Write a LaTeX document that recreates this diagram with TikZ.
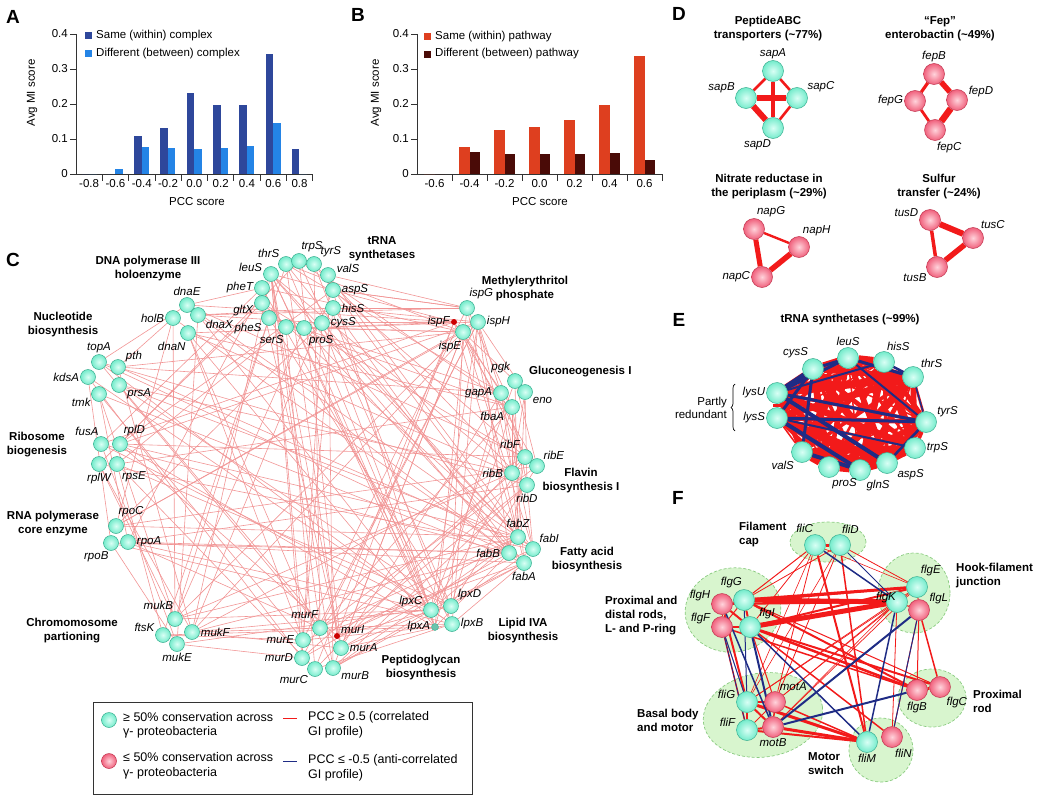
\documentclass[tikz,border=0pt]{standalone}
\usepackage{fontspec}
\setmainfont{Liberation Sans}
\usetikzlibrary{arrows.meta,positioning,decorations.pathreplacing,calc,shapes.geometric}
\definecolor{samecx}{HTML}{2E479B}
\definecolor{diffcx}{HTML}{2484E6}
\definecolor{samepw}{HTML}{DE3F1F}
\definecolor{diffpw}{HTML}{4A0B07}
\definecolor{axisgray}{HTML}{333333}
\definecolor{consv}{HTML}{74EBCB}
\definecolor{consvhi}{HTML}{D9FFF5}
\definecolor{consvrim}{HTML}{3AAE90}
\definecolor{lowcv}{HTML}{F0607C}
\definecolor{lowcvhi}{HTML}{FFD3DB}
\definecolor{lowcvrim}{HTML}{C0354E}
\definecolor{corr}{HTML}{F21A1A}
\definecolor{anticorr}{HTML}{1F2C85}
\definecolor{netedge}{HTML}{F19595}
\definecolor{grpfill}{HTML}{D8F5CE}
\definecolor{grpline}{HTML}{8ACB80}
\pgfdeclarelayer{blobs}
\pgfdeclarelayer{links}
\pgfsetlayers{blobs,links,main}
\tikzset{
  hiball/.style={circle, draw=consvrim, line width=0.5pt, inner sep=0pt, minimum size=21pt,
    inner color=consvhi, outer color=consv},
  loball/.style={hiball, draw=lowcvrim, inner color=lowcvhi, outer color=lowcv},
  smallhi/.style={hiball, minimum size=15pt},
  smalllo/.style={loball, minimum size=15pt},
  tinyhi/.style={circle, fill=consv!80!black!90, draw=consvrim, inner sep=0pt, minimum size=7pt},
  tinylo/.style={circle, fill=red!80!black, inner sep=0pt, minimum size=6pt},
  gene/.style={font=\fontsize{11.5}{13}\selectfont\itshape, inner sep=1pt},
  grp/.style={font=\fontsize{11.5}{14}\selectfont\bfseries, align=center, inner sep=0pt},
  panel/.style={font=\fontsize{19}{20}\selectfont\bfseries, inner sep=0pt},
  axlab/.style={font=\fontsize{11.5}{13}\selectfont, inner sep=1pt},
  legtext/.style={font=\fontsize{12.5}{14.5}\selectfont, align=left, inner sep=0pt, anchor=west},
  axisln/.style={draw=axisgray, line width=0.8pt},
  corrline/.style={draw=corr},
  antiline/.style={draw=anticorr},
  cline/.style={draw=netedge, line width=0.6pt},
  grpblob/.style={ellipse, fill=grpfill, draw=grpline, densely dashed, line width=0.7pt, inner sep=0pt}
}
\begin{document}
\begin{tikzpicture}[x=1pt,y=-1pt]
\useasboundingbox (0,0) rectangle (1039,800);

% ---------- A: complexes ----------
\node[panel] (lblA) at (13,17) {A};
\draw[axisln] (76,34) -- (76,174) -- (313,174);
\foreach \v/\yy [count=\k] in {0/174,0.1/139,0.2/104,0.3/69,0.4/34} {
  \draw[axisln] (70,\yy) -- (76,\yy);
  \node[axlab, anchor=east] (ytA\k) at (69,\yy) {\v};
}
\foreach \k in {1,...,9} \draw[axisln] ({76+26.3*\k},174) -- ++(0,7);
\foreach \t [count=\k from 0] in {-0.8,-0.6,-0.4,-0.2,0.0,0.2,0.4,0.6,0.8}
  \node[axlab] (xtA\k) at ({76+26.3*(\k+0.5)},184) {\t};
\foreach \hs/\hd [count=\k from 0] in {0/0,0/0.015,0.11/0.077,0.13/0.074,0.232/0.07,0.196/0.074,0.196/0.08,0.342/0.146,0.07/0} {
  \pgfmathsetmacro\bx{76+26.3*\k+5.5}
  \fill[samecx] (\bx,174) rectangle ++(7.5,-350*\hs);
  \fill[diffcx] (\bx+7.5,174) rectangle ++(7.5,-350*\hd);
}
\fill[samecx] (85,32) rectangle (92,39);
\node[axlab, anchor=west] (legA1) at (95,36) {Same (within) complex};
\fill[diffcx] (85,50) rectangle (92,57);
\node[axlab, anchor=west] (legA2) at (95,54) {Different (between) complex};
\node[axlab, rotate=90] (yA) at (32,93) {Avg MI score};
\node[axlab] (xA) at (197,202) {PCC score};

% ---------- B: pathways ----------
\node[panel] (lblB) at (358,15) {B};
\draw[axisln] (417,34) -- (417,174) -- (662,174);
\foreach \v/\yy [count=\k] in {0/174,0.1/139,0.2/104,0.3/69,0.4/34} {
  \draw[axisln] (411,\yy) -- (417,\yy);
  \node[axlab, anchor=east] (ytB\k) at (410,\yy) {\v};
}
\foreach \k in {1,...,7} \draw[axisln] ({417+35*\k},174) -- ++(0,7);
\foreach \t [count=\k from 0] in {-0.6,-0.4,-0.2,0.0,0.2,0.4,0.6}
  \node[axlab] (xtB\k) at ({417+35*(\k+0.5)},184) {\t};
\foreach \hs/\hd [count=\k from 0] in {0/0,0.078/0.062,0.127/0.056,0.133/0.056,0.153/0.056,0.197/0.06,0.336/0.04} {
  \pgfmathsetmacro\bx{417+35*\k+7}
  \fill[samepw] (\bx,174) rectangle ++(10.5,-350*\hs);
  \fill[diffpw] (\bx+10.5,174) rectangle ++(10.5,-350*\hd);
}
\fill[samepw] (424,33) rectangle (431,40);
\node[axlab, anchor=west] (legB1) at (434,37) {Same (within) pathway};
\fill[diffpw] (424,51) rectangle (431,58);
\node[axlab, anchor=west] (legB2) at (434,54) {Different (between) pathway};
\node[axlab, rotate=90] (yB) at (376,93) {Avg MI score};
\node[axlab] (xB) at (540,202) {PCC score};

% ---------- C: network ----------
\node[panel] (lblC) at (13,260) {C};
\foreach \n/\x/\y/\a in {thrS/286/264/135, trpS/299/261/80, tyrS/314/264/45, valS/328/275/10,
    leuS/271/274/170, pheT/262/288/180, gltX/262/303/190, pheS/269/318/215, serS/286/327/260,
    proS/304/328/300, cysS/322/323/0, aspS/333/290/0, hisS/333/308/0,
    dnaE/187/305/90, holB/173/318/180, dnaX/198/315/330, dnaN/188/333/260,
    topA/99/362/90, pth/118/367/30, kdsA/88/377/180, prsA/119/385/340, tmk/99/394/200,
    fusA/101/444/100, rplD/120/444/70, rplW/99/464/270, rpsE/117/464/300,
    rpoC/116/526/80, rpoB/111/543/260, rpoA/128/542/0,
    mukB/175/619/95, ftsK/163/635/165, mukF/192/632/0, mukE/177/644/270,
    murF/320/628/95, murE/303/640/180, murA/341/648/0, murD/302/658/180, murC/315/669/220, murB/333/668/340,
    lpxC/431/610/165, lpxD/451/606/40, lpxB/452/624/0,
    ispG/467/308/80, ispH/478/322/0, ispE/463/332/265,
    pgk/515/381/120, eno/525/392/330, gapA/501/393/180, fbaA/512/407/210,
    ribF/525/457/120, ribE/537/466/45, ribB/512/473/180, ribD/527/485/270,
    fabZ/518/537/90, fabI/533/549/45, fabB/509/553/180, fabA/524/563/270}
  \node[smallhi, label={[gene]\a:\n}] (c-\n) at (\x,\y) {};
\node[tinylo, label={[gene]20:murI}] (c-murI) at (337,636) {};
\node[tinylo, label={[gene]180:ispF}] (c-ispF) at (454,322) {};
\node[tinyhi, label={[gene]180:lpxA}] (c-lpxA) at (435,627) {};
\begin{pgfonlayer}{links}
\foreach \s/\t in {leuS/murF, leuS/murE, leuS/murA, leuS/murB, leuS/lpxC, leuS/lpxA, leuS/fabB, leuS/fabZ,
    leuS/mukF, leuS/rpoA, leuS/ribB, leuS/murD, thrS/murI, thrS/lpxC, thrS/fabA, thrS/mukB, thrS/gapA, thrS/ispE,
    trpS/lpxD, trpS/murA, trpS/fbaA, trpS/rplD, tyrS/ribD, tyrS/fabZ, tyrS/lpxB, tyrS/murF,
    valS/fabI, valS/ispG, valS/murB, valS/lpxA, aspS/ispG, aspS/ribF, aspS/rplD, aspS/mukF,
    hisS/ispH, hisS/fabB, hisS/murE, hisS/dnaX, cysS/ispF, cysS/lpxC, cysS/fabZ, cysS/murD, cysS/rpoC,
    proS/ispE, proS/fabA, proS/lpxA, proS/mukB, serS/fbaA, serS/murC, serS/rpsE, pheS/lpxD, pheS/gapA, pheS/ftsK,
    gltX/ribE, gltX/murA, gltX/rplW, gltX/fabI, pheT/dnaE, pheT/ispE, pheT/lpxB, pheT/fusA,
    dnaE/ispF, dnaE/fabZ, dnaE/ribF, dnaE/topA, dnaX/ispG, dnaX/lpxC, dnaX/fabB, dnaX/mukE, dnaX/cysS,
    dnaN/ispH, dnaN/murE, dnaN/lpxA, dnaN/fbaA, dnaN/ribB, dnaN/murB, holB/pth, holB/rpoC, holB/mukB, holB/fabA,
    topA/fabB, topA/ribD, topA/lpxC, topA/murF, pth/ispE, pth/gapA, pth/fabI, pth/mukF,
    kdsA/rpoB, kdsA/murD, kdsA/lpxB, prsA/fabZ, prsA/ribB, prsA/murA, prsA/lpxD,
    tmk/fabA, tmk/mukB, tmk/murE, tmk/rpoA, fusA/fabB, fusA/mukE, fusA/lpxC, fusA/ispF,
    rplD/ispH, rplD/ribF, rplD/lpxA, rplD/fabZ, rplD/murI, rplW/mukF, rplW/fabI, rplW/mukB,
    rpsE/murC, rpsE/ftsK, rpsE/fbaA, rpsE/lpxD, rpoC/fabZ, rpoC/ispE, rpoC/ribE, rpoC/ispH,
    rpoB/mukE, rpoB/lpxB, rpoB/fabB, rpoA/fabA, rpoA/fabB, rpoA/ribD, rpoA/lpxC, rpoA/murF,
    mukB/ispE, mukB/fabZ, mukB/lpxC, mukB/ribB, ftsK/murE, ftsK/lpxA,
    mukF/lpxC, mukF/lpxB, mukF/fabB, mukF/ispH, mukF/murA, mukF/ribF, mukE/murD, mukE/lpxD,
    murF/ispH, murF/fabZ, murF/ribE, murF/fbaA, murE/ispG, murE/fabA, murE/lpxA,
    murI/ispF, murI/fabI, murI/lpxD, murI/ribD, murA/ispE, murA/fabB, murA/gapA, murA/lpxB, murA/lpxC,
    murD/ispH, murD/fabZ, murD/ribB, murC/ispF, murC/ribF, murC/lpxB,
    murB/ispE, murB/fabZ, murB/fabA, murB/lpxC, murB/ribD,
    lpxC/ispH, lpxC/fabZ, lpxC/fabA, lpxC/ribF, lpxC/pgk, lpxC/lpxB, lpxD/ispE, lpxD/fabI, lpxD/ribE, lpxD/fbaA,
    lpxA/ispG, lpxA/fabB, lpxA/gapA, lpxB/ispH, lpxB/fabA,
    fabZ/ispF, fabZ/ribB, fabZ/fabB, fabZ/pgk, fabZ/eno, fabZ/fabI, fabI/ispE, fabI/gapA, fabI/ribD,
    fabB/ispH, fabB/ribF, fabA/ispG, fabA/fbaA, ribB/ispH, ribB/fbaA, ribB/gapA, ribB/eno,
    ribF/ispE, ribF/gapA, ribE/ispF, ribE/pgk, ribD/eno, ribD/fbaA, gapA/ispH, gapA/ispE,
    fbaA/ispF, fbaA/ispG, pgk/ispE, pgk/eno, eno/ispH, ispG/hisS, ispG/aspS, ispF/cysS, ispF/proS, ispF/leuS, ispE/serS}
  \draw[cline] (c-\s) -- (c-\t);
\end{pgfonlayer}
\node[grp] (gDna) at (148,269) {DNA polymerase III\\holoenzyme};
\node[grp] (gNuc) at (63,325) {Nucleotide\\biosynthesis};
\node[grp] (gRib) at (37,445) {Ribosome\\biogenesis};
\node[grp] (gRna) at (53,524) {RNA polymerase\\core enzyme};
\node[grp] (gChr) at (72,631) {Chromomosome\\partioning};
\node[grp] (gTrna) at (382,249) {tRNA\\synthetases};
\node[grp] (gMep) at (525,289) {Methylerythritol\\phosphate};
\node[grp, anchor=west] (gGlu) at (529,372) {Gluconeogenesis I};
\node[grp] (gFla) at (581,481) {Flavin\\biosynthesis I};
\node[grp] (gFat) at (587,560) {Fatty acid\\biosynthesis};
\node[grp] (gLip) at (523,631) {Lipid IVA\\biosynthesis};
\node[grp] (gPep) at (421,668) {Peptidoglycan\\biosynthesis};

% legend
\draw[draw=axisgray, line width=1pt] (93,702) rectangle (472,794);
\node[hiball, minimum size=15pt] (keyHi) at (109,720) {};
\node[legtext] (keyHiT) at (123,725.5) {≥ 50\% conservation across\\γ- proteobacteria};
\node[loball, minimum size=15pt] (keyLo) at (109,761) {};
\node[legtext] (keyLoT) at (123,766) {≤ 50\% conservation across\\γ- proteobacteria};
\coordinate (keyPosA) at (283,718);
\coordinate (keyPosB) at (297,718);
\draw[corrline, line width=1pt] (keyPosA) -- (keyPosB);
\node[legtext] (keyPosT) at (308,725) {PCC ≥ 0.5 (correlated\\GI profile)};
\coordinate (keyNegA) at (283,761);
\coordinate (keyNegB) at (297,761);
\draw[antiline, line width=1pt] (keyNegA) -- (keyNegB);
\node[legtext] (keyNegT) at (308,768) {PCC ≤ -0.5 (anti-correlated\\GI profile)};

% ---------- D: small complexes ----------
\node[panel] (lblD) at (679,14) {D};
\node[grp] (tSap) at (768,29) {PeptideABC\\transporters (\textasciitilde 77\%)};
\node[grp] (tFep) at (940,29) {“Fep”\\enterobactin (\textasciitilde 49\%)};
\node[grp] (tNap) at (769,187) {Nitrate reductase in\\the periplasm (\textasciitilde 29\%)};
\node[grp] (tTus) at (939,187) {Sulfur\\transfer (\textasciitilde 24\%)};
\node[hiball, label={[gene]90:sapA}] (sapA) at (773,71) {};
\node[hiball, label={[gene]160:sapB}] (sapB) at (746,98) {};
\node[hiball, label={[gene]30:sapC}] (sapC) at (797,98) {};
\node[hiball, label={[gene]265:sapD}] (sapD) at (773,128) {};
\node[loball, label={[gene]90:fepB}] (fepB) at (934,74) {};
\node[loball, label={[gene]180:fepG}] (fepG) at (915,101) {};
\node[loball, label={[gene]10:fepD}] (fepD) at (957,100) {};
\node[loball, label={[gene]275:fepC}] (fepC) at (935,130) {};
\node[loball, label={[gene]80:napG}] (napG) at (754,229) {};
\node[loball, label={[gene]75:napH}] (napH) at (799,247) {};
\node[loball, label={[gene]180:napC}] (napC) at (762,277) {};
\node[loball, label={[gene]170:tusD}] (tusD) at (930,220) {};
\node[loball, label={[gene]50:tusC}] (tusC) at (973,238) {};
\node[loball, label={[gene]210:tusB}] (tusB) at (937,267) {};
\begin{pgfonlayer}{links}
\foreach \s/\t/\w in {sapA/sapB/2.6, sapA/sapC/2.6, sapA/sapD/3.2, sapB/sapC/5.5, sapB/sapD/6, sapC/sapD/2.6,
    fepB/fepG/3.2, fepB/fepD/5.5, fepG/fepC/2.8, fepD/fepC/6.5,
    napG/napH/2.4, napG/napC/5, napH/napC/5.5,
    tusD/tusC/6, tusD/tusB/3.5, tusC/tusB/5.5}
  \draw[corrline, line width=\w pt] (\s) -- (\t);
\end{pgfonlayer}

% ---------- E: tRNA synthetases ----------
\node[panel] (lblE) at (679,320) {E};
\node[grp] (tTrna) at (850,320) {tRNA synthetases (\textasciitilde 99\%)};
\foreach \n/\x/\y/\a in {lysU/777/393/180, cysS/813/369/110, leuS/848/358/90, hisS/884/362/80,
    thrS/913/377/50, tyrS/926/422/20, trpS/915/448/0, aspS/887/463/330, glnS/860/470/300,
    proS/829/467/282, valS/802/452/230, lysS/777/418/180}
  \node[hiball, label={[gene]\a:\n}] (e-\n) at (\x,\y) {};
\begin{pgfonlayer}{links}
\foreach \a [count=\i] in {lysU,cysS,leuS,hisS,thrS,tyrS,trpS,aspS,glnS,proS,valS,lysS} {
  \foreach \b [count=\j] in {lysU,cysS,leuS,hisS,thrS,tyrS,trpS,aspS,glnS,proS,valS,lysS} {
    \ifnum\j>\i
      \pgfmathsetmacro\w{1.5+mod(\i*5+\j*3,7)*1.05}
      \draw[corrline, line width=\w pt] (e-\a) -- (e-\b);
    \fi
  }
}
\foreach \s/\t/\w in {lysU/cysS/5, lysU/leuS/3, lysU/hisS/2, lysU/aspS/4, lysU/tyrS/3, lysS/cysS/3,
    lysS/glnS/4, lysS/tyrS/3, lysS/trpS/2, cysS/leuS/3, leuS/thrS/3, hisS/thrS/2.5, thrS/tyrS/1.5,
    valS/glnS/4, cysS/valS/3, tyrS/aspS/2.5, leuS/tyrS/2}
  \draw[antiline, line width=\w pt] (e-\s) -- (e-\t);
\end{pgfonlayer}
\draw[decorate, decoration={brace, amplitude=4pt}, line width=0.7pt] (735,431) -- (735,384);
\node[axlab, align=right, anchor=east] (tRed) at (728,408) {Partly\\redundant};

% ---------- F: flagellum ----------
\node[panel] (lblF) at (678,498) {F};
\begin{pgfonlayer}{blobs}
\node[grpblob, minimum width=76pt, minimum height=40pt] (bCap) at (828,542) {};
\node[grpblob, minimum width=72pt, minimum height=80pt] (bHook) at (914,593) {};
\node[grpblob, minimum width=96pt, minimum height=84pt, rotate=10] (bRod) at (733,610) {};
\node[grpblob, minimum width=68pt, minimum height=58pt] (bPrx) at (932,698) {};
\node[grpblob, minimum width=120pt, minimum height=84pt, rotate=8] (bMot) at (763,715) {};
\node[grpblob, minimum width=64pt, minimum height=64pt] (bSw) at (881,750) {};
\end{pgfonlayer}
\node[grp, align=left, anchor=west] (gCap) at (739,535) {Filament\\cap};
\node[grp, align=left, anchor=west] (gHook) at (956,576) {Hook-filament\\junction};
\node[grp, align=left, anchor=west] (gRod) at (605,616) {Proximal and\\distal rods,\\L- and P-ring};
\node[grp, align=left, anchor=west] (gPrx) at (973,701) {Proximal\\rod};
\node[grp, align=left, anchor=west] (gMot) at (637,720) {Basal body\\and motor};
\node[grp, align=left, anchor=west] (gSw) at (808,764) {Motor\\switch};
\foreach \n/\x/\y/\a in {fliC/815/545/95, fliD/840/545/85, flgE/917/587/75, flgG/744/600/95,
    flgI/750/627/40, fliG/747/702/170, fliF/747/730/170, fliM/867/742/270}
  \node[hiball, label={[gene]\a:\n}] (\n) at (\x,\y) {};
\node[hiball] (flgK) at (897,602) {};
\node[gene] (flgKt) at (886,598) {flgK};
\foreach \n/\x/\y/\a in {flgH/722/604/170, flgF/722/627/170, flgL/919/610/30, flgB/917/690/270,
    flgC/940/687/300, motA/775/702/70, motB/773/727/270, fliN/892/737/280}
  \node[loball, label={[gene]\a:\n}] (\n) at (\x,\y) {};
\begin{pgfonlayer}{links}
\foreach \s/\t/\w in {fliC/fliD/3, flgG/flgK/5, flgI/flgK/5, flgG/flgE/3, flgH/flgK/2, flgI/flgE/2,
    flgH/flgE/1.2, flgG/flgI/2, flgH/flgI/2, flgH/flgG/1, flgF/flgI/1.5, flgF/flgH/1, flgF/flgG/1,
    flgI/flgB/2.5, flgI/flgC/2, flgF/flgB/1.5, flgG/flgC/1, flgL/flgC/1.5, flgL/flgB/1, flgE/flgL/1,
    flgK/flgL/1, flgB/flgC/3, fliC/fliM/2, fliD/fliM/1.5, fliC/flgG/1, fliC/flgI/0.8, fliD/flgG/0.8,
    fliC/motA/0.8, fliD/motA/0.8, fliC/fliG/0.6, fliD/fliG/0.6, fliD/flgE/0.8, fliC/flgE/0.6,
    fliG/fliM/3, motB/fliM/3, fliF/fliM/2, motA/fliM/1.5, fliG/fliF/2, fliG/motA/1.5, fliG/motB/2,
    fliF/motB/2, motA/motB/1.5, motA/fliF/1, flgH/fliG/2, flgF/fliF/1.5, flgI/motA/1, flgI/fliN/1.5,
    flgL/fliN/1, flgK/fliN/0.8, flgG/flgB/2, flgE/fliG/0.7, flgK/motA/0.7, flgK/fliG/0.7,
    flgE/motB/0.7, flgE/motA/0.6, flgK/motB/0.6}
  \draw[corrline, line width=\w pt] (\s) -- (\t);
\foreach \s/\t/\w in {fliC/flgK/1.5, fliD/flgK/1, flgH/motB/1.5, flgF/fliG/1, flgF/fliF/0.8,
    flgI/motB/2, flgI/fliM/1.5, flgL/motB/2, flgK/fliM/1.5, flgL/fliN/1, flgB/motB/2, flgG/fliG/1}
  \draw[antiline, line width=\w pt] (\s) -- (\t);
\end{pgfonlayer}
\end{tikzpicture}
\end{document}
